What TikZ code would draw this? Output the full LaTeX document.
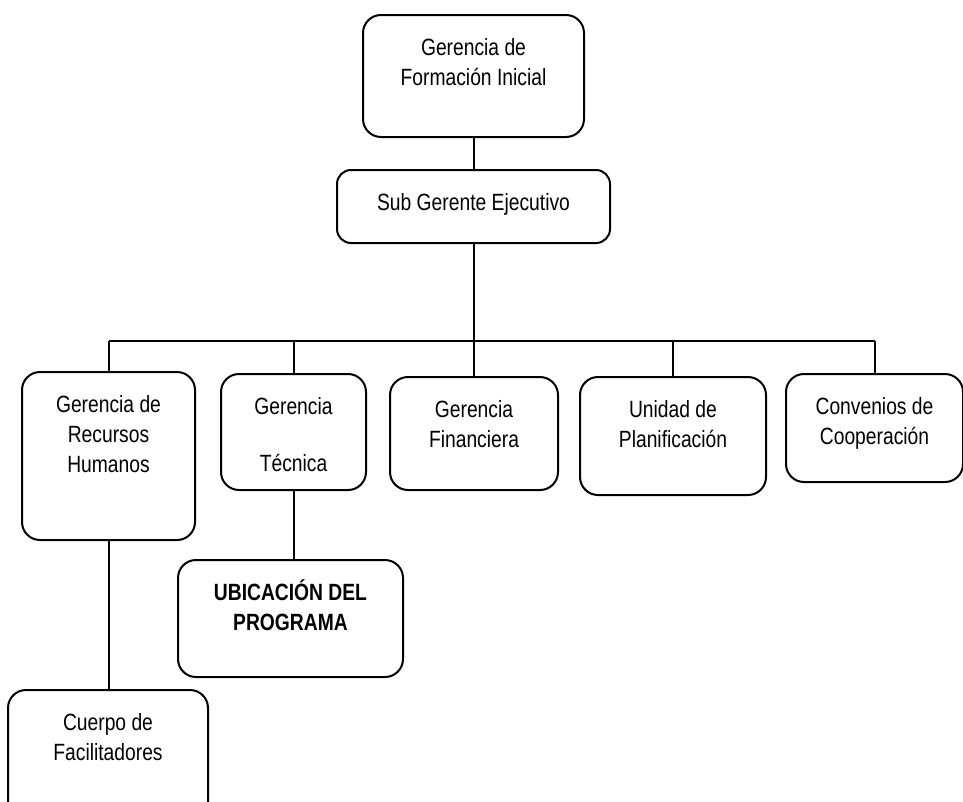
\documentclass[tikz,border=0pt]{standalone}
\usepackage{fontspec}
\setmainfont{Liberation Sans}[FakeStretch=0.82]
\usepackage{tikz}

\tikzset{
  unit/.style={draw, line width=2pt, rounded corners=18pt, inner sep=0pt,
    anchor=north west, font=\fontsize{23.5}{30}\selectfont},
  link/.style={line width=2pt}
}
% box of width #1, height #2, text set from the top
\newcommand{\boxtext}[3]{\parbox[t][#2pt][t]{#1pt}{\centering\rule{0pt}{40pt}#3}}

\begin{document}
\begin{tikzpicture}[x=1pt,y=-1pt]
\useasboundingbox (0,0) rectangle (963,801);

\node (gfi) [unit] at (362,14) {\boxtext{221}{122}{Gerencia de\\Formación Inicial}};
\node (sge) [unit, rounded corners=14pt] at (336,169) {\boxtext{273}{73}{Sub Gerente Ejecutivo}};

\node (grh) [unit] at (21,371) {\boxtext{173}{168}{Gerencia de\\Recursos\\Humanos}};
\node (gt) [unit] at (220,373) {\boxtext{145}{116}{Gerencia\\[27pt]Técnica}};
\node (gf) [unit] at (389,376) {\boxtext{168}{113}{Gerencia\\Financiera}};
\node (up) [unit] at (579,376) {\boxtext{186}{118}{Unidad de\\Planificación}};
\node (cdc) [unit] at (785,373) {\boxtext{177}{108}{Convenios de\\Cooperación}};

\node (ubi) [unit] at (177,559) {\boxtext{225}{117}{\bfseries UBICACIÓN DEL\\PROGRAMA}};
\node (cf) [unit] at (7,689) {\boxtext{200}{141}{Cuerpo de\\Facilitadores}};

\coordinate (bus) at (0,341);
\draw [link] (gfi.south) -- (sge.north);
\draw [link] (sge.south) -- (sge.south |- bus);
\draw [link] (grh.north |- bus) -- (cdc.north |- bus);
\foreach \n in {grh,gt,gf,up,cdc}
  \draw [link] (\n.north) -- (\n.north |- bus);
\draw [link] (grh.south) -- (grh.south |- cf.north);
\draw [link] (gt.south) -- (gt.south |- ubi.north);
\end{tikzpicture}
\end{document}
